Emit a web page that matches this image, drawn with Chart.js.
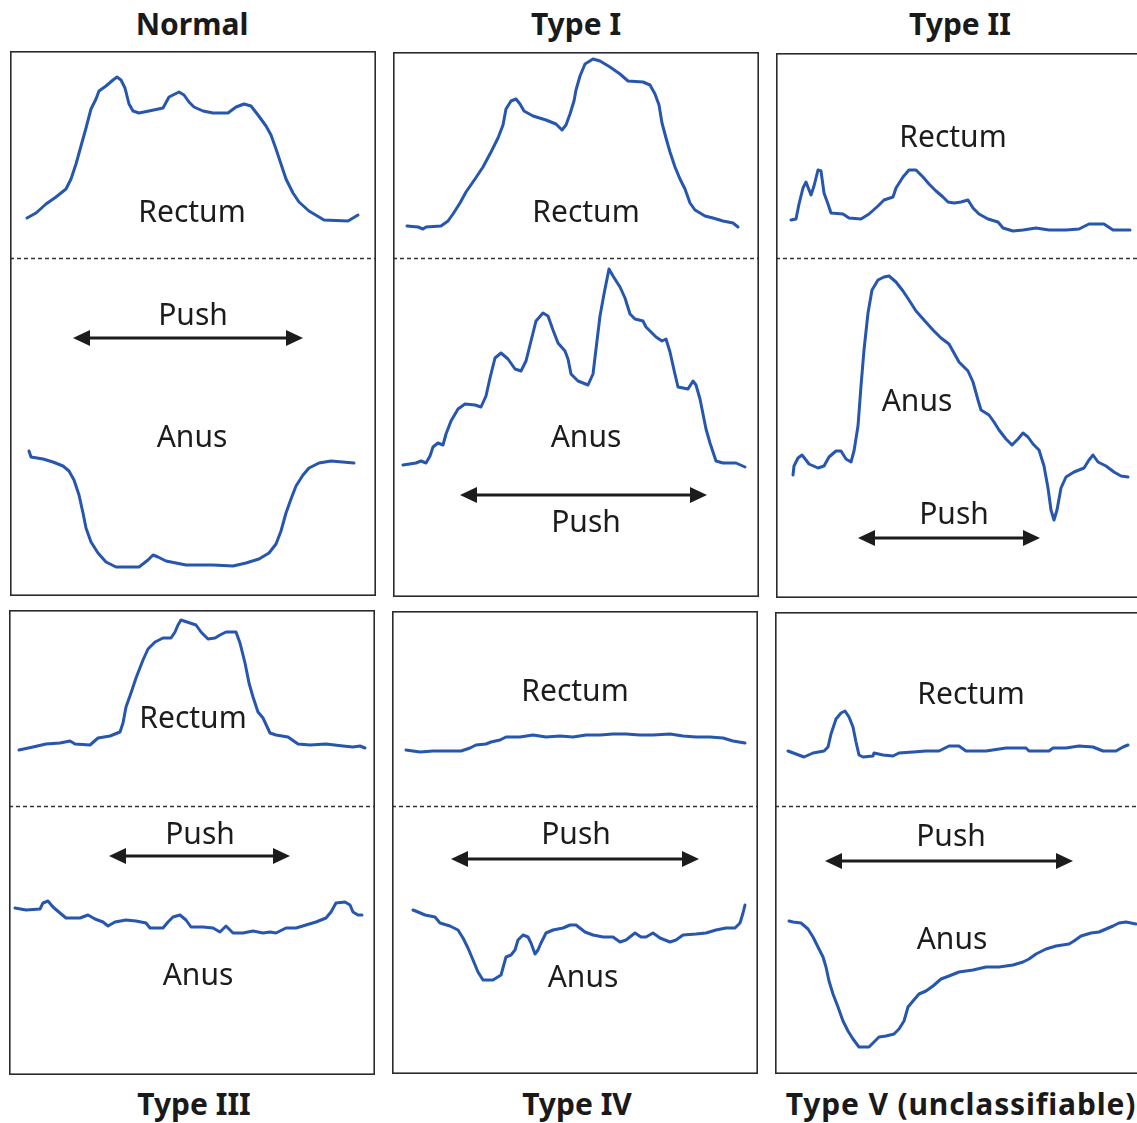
<!DOCTYPE html>
<html><head><meta charset="utf-8">
<script src="https://cdn.jsdelivr.net/npm/chart.js@4.4.0/dist/chart.umd.min.js"></script>
<style>
html,body{margin:0;padding:0;background:#fff;}
body{width:1137px;height:1123px;overflow:hidden;position:relative;font-family:"Noto Sans",sans-serif;}
.title{position:absolute;font-weight:700;font-size:30px;color:#1a1a1a;transform:translate(-50%,-50%);white-space:nowrap;line-height:30px;}
canvas{position:absolute;}
</style></head><body>
<script>
// ---- Data (time units, pressure units) ----
const panelTitles = ["Normal", "Type I", "Type II", "Type III", "Type IV", "Type V (unclassifiable)"];
const seriesNames = ["Rectum", "Anus"];

const normalRectum = [[17,378],[26,383],[36,392],[46,399],[56,407],[61,417],[66,432],[71,450],[76,468],[81,487],[86,497],[89,505],[96,510],[103,516],[107,519],[111,516],[115,508],[119,492],[123,485],[129,483],[139,485],[153,488],[159,499],[169,504],[174,501],[179,494],[184,489],[193,485],[203,483],[218,483],[226,489],[234,492],[241,490],[248,481],[256,470],[261,461],[266,447],[271,432],[276,417],[283,403],[289,394],[299,385],[314,376],[338,375],[348,381]];
const normalAnus = [[19,145],[21,139],[33,137],[43,134],[53,130],[59,125],[64,116],[69,101],[73,83],[76,68],[81,54],[88,43],[96,34],[106,29],[129,29],[138,36],[143,41],[148,39],[156,35],[166,33],[176,31],[203,31],[223,30],[236,33],[249,37],[259,43],[266,52],[271,65],[276,83],[281,97],[286,110],[293,121],[299,128],[309,133],[321,135],[344,133]];

const typeIRectum = [[14,371],[25,370],[30,368],[33,370],[48,371],[55,376],[60,383],[67,394],[73,405],[82,418],[90,430],[98,445],[105,459],[110,472],[113,488],[118,496],[123,498],[127,493],[131,486],[140,481],[153,477],[163,473],[169,467],[173,472],[177,483],[181,496],[183,507],[187,521],[192,533],[200,538],[207,536],[217,530],[227,523],[235,516],[250,515],[257,512],[262,503],[266,492],[269,474],[273,459],[277,445],[282,430],[287,418],[292,408],[297,394],[302,387],[312,381],[320,379],[330,376],[340,374],[345,370]];
const typeIAnus = [[10,132],[23,134],[28,136],[33,134],[37,141],[40,150],[45,154],[50,152],[53,163],[58,176],[65,188],[72,193],[82,192],[88,190],[93,201],[97,219],[102,239],[108,244],[115,238],[122,228],[128,226],[133,236],[138,256],[143,276],[150,284],[155,281],[160,267],[165,254],[172,246],[175,238],[178,223],[185,216],[195,212],[200,223],[203,248],[207,281],[211,303],[216,328],[220,321],[227,310],[232,299],[237,283],[242,278],[250,276],[253,270],[258,265],[263,260],[269,256],[273,258],[277,245],[281,227],[285,210],[295,208],[300,216],[303,212],[307,198],[310,183],[313,168],[317,154],[323,136],[330,134],[343,134],[352,130]];

const typeIIRectum = [[15,378],[20,379],[23,394],[27,410],[30,416],[35,403],[38,412],[42,428],[45,427],[48,405],[52,394],[55,385],[67,384],[73,380],[85,379],[93,384],[102,392],[108,398],[117,401],[120,410],[127,421],[133,428],[140,428],[147,421],[153,414],[160,407],[167,401],[172,396],[178,395],[185,396],[192,398],[197,390],[203,384],[212,379],[222,376],[227,370],[237,367],[247,368],[260,370],[273,368],[290,368],[303,369],[313,374],[328,374],[337,368],[347,368],[354,368]];
const typeIIAnus = [[17,123],[18,132],[22,140],[26,143],[30,138],[33,134],[42,130],[48,132],[53,141],[60,147],[65,147],[70,139],[75,136],[78,147],[82,172],[85,212],[88,248],[92,285],[96,308],[102,318],[108,321],[113,322],[120,316],[127,307],[133,298],[140,287],[148,278],[157,268],[165,260],[173,254],[178,245],[183,236],[192,227],[197,216],[202,198],[205,188],[213,183],[218,176],[223,168],[230,159],[236,153],[242,159],[247,165],[252,161],[257,154],[263,148],[268,132],[272,110],[275,88],[278,78],[281,88],[285,110],[290,121],[298,126],[308,130],[313,138],[317,143],[322,136],[330,132],[338,126],[345,122],[352,121]];

const typeIIIRectum = [[10,325],[24,328],[37,331],[51,332],[61,334],[66,331],[81,330],[89,337],[101,339],[111,343],[114,352],[117,368],[122,382],[127,397],[134,415],[139,426],[146,433],[154,437],[162,437],[166,443],[169,450],[172,455],[181,452],[187,450],[192,443],[199,436],[206,437],[211,440],[217,443],[227,443],[231,432],[236,412],[240,392],[244,378],[249,363],[254,357],[261,342],[267,340],[279,338],[289,331],[301,330],[317,331],[334,329],[344,328],[351,329],[356,327]];
const typeIIIAnus = [[6,167],[17,165],[31,166],[34,172],[39,174],[44,168],[51,162],[57,157],[71,157],[79,160],[86,156],[94,153],[99,149],[106,153],[117,155],[127,154],[137,152],[141,147],[154,147],[159,153],[164,158],[171,160],[177,155],[182,148],[194,148],[204,147],[211,143],[217,149],[224,142],[234,142],[244,144],[254,142],[261,143],[267,142],[277,147],[287,147],[297,150],[307,153],[317,157],[322,163],[327,172],[336,173],[341,170],[344,163],[349,160],[353,160]];

const typeIVRectum = [[14,324],[28,322],[41,323],[54,323],[69,323],[78,326],[84,329],[94,330],[99,332],[108,334],[114,337],[128,337],[141,339],[154,337],[168,338],[181,337],[194,339],[208,339],[221,340],[234,340],[248,339],[261,339],[278,340],[291,338],[304,337],[318,337],[331,336],[341,333],[353,331]];
const typeIVAnus = [[21,164],[26,162],[33,159],[43,157],[48,151],[58,148],[66,144],[71,136],[76,126],[81,114],[86,102],[91,94],[101,94],[109,99],[114,117],[119,119],[123,124],[126,134],[131,139],[136,137],[139,131],[143,120],[146,124],[149,131],[154,141],[161,144],[171,146],[178,149],[184,149],[193,142],[201,139],[211,137],[221,137],[228,132],[234,134],[243,141],[249,137],[254,137],[261,141],[268,136],[278,132],[284,134],[291,139],[304,140],[314,141],[324,144],[334,146],[343,146],[348,151],[351,161],[353,169]];

const typeVRectum = [[13,323],[21,320],[29,317],[38,321],[49,323],[53,327],[56,340],[61,355],[66,361],[70,363],[74,357],[78,347],[81,332],[84,319],[88,317],[98,318],[99,321],[108,319],[118,318],[124,321],[138,322],[151,323],[164,323],[174,328],[184,328],[191,323],[211,323],[231,326],[251,326],[254,323],[274,323],[278,326],[291,326],[304,328],[318,327],[328,323],[341,323],[348,327],[353,329]];
const typeVAnus = [[14,153],[18,152],[26,151],[33,145],[38,137],[43,127],[48,117],[51,107],[54,93],[58,80],[63,67],[68,53],[73,43],[78,35],[84,27],[94,27],[99,32],[104,37],[111,38],[119,40],[124,45],[129,53],[133,67],[138,73],[144,80],[151,83],[158,88],[166,95],[174,98],[184,102],[198,104],[211,107],[224,107],[238,109],[248,112],[254,115],[261,120],[271,125],[281,128],[294,130],[299,133],[306,138],[316,141],[324,142],[331,145],[338,148],[344,151],[351,152],[361,150]];

// label anchors [x, y] in data units: Rectum, Anus, Push
const rectumLabelAt = [[182,385],[193,386],[177,462],[184,358],[183,384],[196,381]];
const anusLabelAt   = [[182,160],[193,161],[141,198],[189,101],[191,98],[177,136]];
const pushLabelAt   = [[183,282],[193,76],[178,85],[191,242],[184,241],[176,239]];
// push arrow [start, end, level]
const pushArrow = [[63,293,258],[67,314,102],[82,264,60],[100,281,219],[59,307,215],[50,298,213]];
// dashed separator level between rectum and anus channels
const separatorLevel = [338,339,340,269,268,268];

// ---- Layout ----
const panelBox = [
  {left:10, top:51, width:366, height:545},
  {left:393, top:52, width:366, height:545},
  {left:776, top:53, width:366, height:545},
  {left:9, top:610, width:366, height:465},
  {left:392, top:611, width:366, height:463},
  {left:775, top:612, width:366, height:462}
];
const titlePos = [[192,25],[576,25],[960,25],[194,1105],[577,1105],[961,1105]];
const titleSpacing = [0,0,0,0,0,0.85];
const traces = [
  [normalRectum, normalAnus],[typeIRectum, typeIAnus],[typeIIRectum, typeIIAnus],
  [typeIIIRectum, typeIIIAnus],[typeIVRectum, typeIVAnus],[typeVRectum, typeVAnus]
];

const LINE = '#2656ad';
const INK = '#1c1c1c';

const decor = {
  id: 'decor',
  afterDatasetsDraw(chart, args, o) {
    const {ctx} = chart;
    const x = chart.scales.x, y = chart.scales.y;
    const W = chart.width, H = chart.height;
    ctx.save();
    // separator
    ctx.strokeStyle = '#333';
    ctx.lineWidth = 1.3;
    ctx.setLineDash([4, 3]);
    const yd = Math.round(y.getPixelForValue(o.sep)) + 0.5;
    ctx.beginPath(); ctx.moveTo(0, yd); ctx.lineTo(W, yd); ctx.stroke();
    ctx.setLineDash([]);
    // frame
    ctx.strokeStyle = '#2b2b2b';
    ctx.lineWidth = 1.6;
    ctx.strokeRect(0.8, 0.8, W - 1.6, H - 1.6);
    // labels
    ctx.fillStyle = INK;
    ctx.font = '30px "Noto Sans"';
    ctx.textAlign = 'center';
    ctx.textBaseline = 'alphabetic';
    for (const l of o.labels) {
      ctx.fillText(l.text, x.getPixelForValue(l.at[0]), y.getPixelForValue(l.at[1]) + 10.5);
    }
    // push arrow
    const [a0, a1, lv] = o.arrow;
    const px0 = x.getPixelForValue(a0), px1 = x.getPixelForValue(a1), py = y.getPixelForValue(lv);
    const hl = 17, hh = 8;
    ctx.strokeStyle = INK; ctx.fillStyle = INK; ctx.lineWidth = 3;
    ctx.beginPath(); ctx.moveTo(px0 + hl - 2, py); ctx.lineTo(px1 - hl + 2, py); ctx.stroke();
    ctx.beginPath(); ctx.moveTo(px0, py); ctx.lineTo(px0 + hl, py - hh); ctx.lineTo(px0 + hl, py + hh); ctx.closePath(); ctx.fill();
    ctx.beginPath(); ctx.moveTo(px1, py); ctx.lineTo(px1 - hl, py - hh); ctx.lineTo(px1 - hl, py + hh); ctx.closePath(); ctx.fill();
    ctx.restore();
  }
};

panelTitles.forEach((t, i) => {
  const d = document.createElement('div');
  d.className = 'title';
  d.textContent = t;
  d.style.left = titlePos[i][0] + 'px';
  d.style.top = (titlePos[i][1] - 1) + 'px';
  d.style.letterSpacing = titleSpacing[i] + 'px';
  document.body.appendChild(d);
});

panelBox.forEach((b, i) => {
  const c = document.createElement('canvas');
  c.width = b.width; c.height = b.height;
  c.style.left = b.left + 'px'; c.style.top = b.top + 'px';
  c.style.width = b.width + 'px'; c.style.height = b.height + 'px';
  document.body.appendChild(c);
  new Chart(c, {
    type: 'line',
    data: {
      datasets: traces[i].map((tr, k) => ({
        label: seriesNames[k],
        data: tr.map(p => ({x: p[0], y: p[1]})),
        borderColor: LINE,
        borderWidth: 3,
        pointRadius: 0,
        tension: 0,
        fill: false,
        borderJoinStyle: 'round',
        borderCapStyle: 'round'
      }))
    },
    options: {
      responsive: false,
      animation: false,
      devicePixelRatio: 1,
      layout: {padding: 0},
      scales: {
        x: {type: 'linear', min: 0, max: b.width, display: false},
        y: {type: 'linear', min: 0, max: b.height, display: false}
      },
      plugins: {
        legend: {display: false},
        tooltip: {enabled: false},
        decor: {
          sep: separatorLevel[i],
          arrow: pushArrow[i],
          labels: [
            {text: 'Rectum', at: rectumLabelAt[i]},
            {text: 'Anus', at: anusLabelAt[i]},
            {text: 'Push', at: pushLabelAt[i]}
          ]
        }
      }
    },
    plugins: [decor]
  });
});
</script>
</body></html>
